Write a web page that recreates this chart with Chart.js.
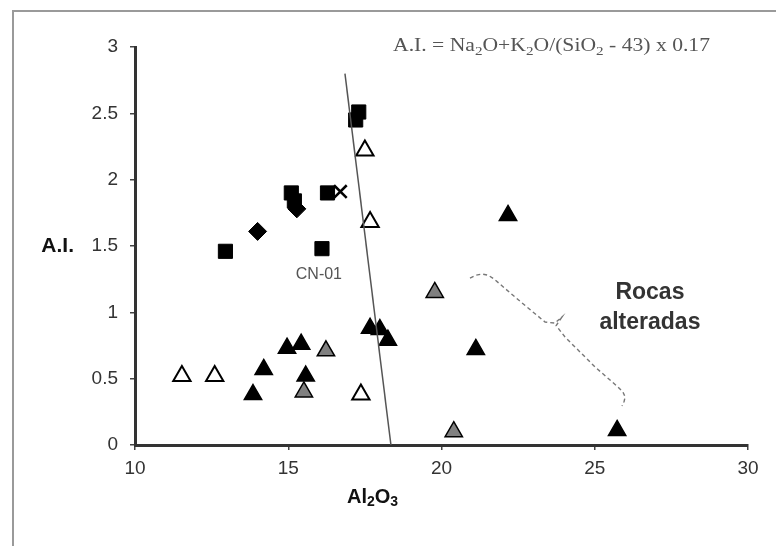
<!DOCTYPE html>
<html>
<head>
<meta charset="utf-8">
<script src="https://cdn.jsdelivr.net/npm/chart.js@4.4.1/dist/chart.umd.min.js"></script>
<style>
  html, body { margin: 0; padding: 0; background: #fff; }
  #wrap { width: 776px; height: 546px; position: relative; }
</style>
</head>
<body>
<div id="wrap"><canvas id="chart" width="776" height="546"></canvas></div>
<script>
// Ticks
const xTicks = [10, 15, 20, 25, 30];
const yTicks = [0, 0.5, 1, 1.5, 2, 2.5, 3];

// Black squares
const squareX = [12.95, 15.1, 15.2, 16.1, 16.28, 17.2, 17.3];
const squareY = [1.46, 1.9, 1.84, 1.48, 1.9, 2.45, 2.51];

// Black diamonds
const diamondX = [14.0, 15.28];
const diamondY = [1.61, 1.78];

// Cross marker
const crossX = [16.7];
const crossY = [1.91];

// Open (white) triangles
const openTriX = [11.53, 12.6, 17.37, 17.5, 17.67];
const openTriY = [0.52, 0.52, 0.38, 2.22, 1.68];

// Grey triangles
const greyTriX = [15.51, 16.23, 19.78, 20.4];
const greyTriY = [0.40, 0.71, 1.15, 0.10];

// Black triangles
const blackTriX = [13.85, 14.2, 14.96, 15.42, 15.57, 17.67, 17.99, 18.25, 21.12, 22.17, 25.73];
const blackTriY = [0.38, 0.57, 0.73, 0.76, 0.52, 0.88, 0.87, 0.79, 0.72, 1.73, 0.11];

// Dividing line
const lineX = [16.85, 18.35];
const lineY = [2.8, 0];

// Dashed brace around "Rocas alteradas"
const braceX = [20.93, 21.12, 21.32, 21.52, 21.72, 22.63, 23.38, 23.7, 23.93, 23.74, 24.03, 25.01, 25.76, 25.92, 25.99, 25.96, 25.89];
const braceY = [1.258, 1.28, 1.289, 1.28, 1.25, 1.07, 0.927, 0.919, 0.965, 0.9, 0.814, 0.588, 0.437, 0.4, 0.362, 0.33, 0.294];

const pts = (xs, ys) => xs.map((x, i) => ({ x: x, y: ys[i] }));

const FONT = '"Liberation Sans", Arial, sans-serif';
const SERIF = '"Liberation Serif", "Times New Roman", serif';

// draws text pieces with subscripts, optionally stretched to a target width
function drawSub(ctx, parts, x, y, size, weight, family, align, targetW) {
    let total = 0;
    parts.forEach(p => {
        ctx.font = `${weight} ${p.sub ? size * 0.7 : size}px ${family}`;
        total += ctx.measureText(p.t).width;
    });
    const k = targetW ? targetW / total : 1;
    let cx = align === 'center' ? x - total * k / 2 : x;
    ctx.save();
    ctx.translate(cx, 0);
    ctx.scale(k, 1);
    let off = 0;
    parts.forEach(p => {
        ctx.font = `${weight} ${p.sub ? size * 0.7 : size}px ${family}`;
        ctx.fillText(p.t, off, p.sub ? y + size * 0.28 : y);
        off += ctx.measureText(p.t).width;
    });
    ctx.restore();
}

const annotations = {
    id: 'annotations',
    beforeDraw(chart) {
        const ctx = chart.ctx;
        ctx.save();
        ctx.fillStyle = '#fff';
        ctx.fillRect(0, 0, chart.width, chart.height);
        // outer frame
        ctx.strokeStyle = '#9a9a9a';
        ctx.lineWidth = 2;
        ctx.beginPath();
        ctx.moveTo(13, chart.height);
        ctx.lineTo(13, 11);
        ctx.lineTo(chart.width, 11);
        ctx.stroke();
        ctx.restore();
    },
    afterDraw(chart) {
        const ctx = chart.ctx;
        const xs = chart.scales.x, ys = chart.scales.y;
        ctx.save();
        ctx.textBaseline = 'middle';
        ctx.textAlign = 'left';

        // formula
        ctx.fillStyle = '#555';
        drawSub(ctx, [
            { t: 'A.I. = Na' }, { t: '2', sub: true }, { t: 'O+K' }, { t: '2', sub: true },
            { t: 'O/(SiO' }, { t: '2', sub: true }, { t: ' - 43) x 0.17' }
        ], 393, 46, 19, 'normal', SERIF, 'left', 317);

        // sample label
        ctx.fillStyle = '#555';
        ctx.font = `16px ${FONT}`;
        ctx.textAlign = 'center';
        ctx.fillText('CN-01', xs.getPixelForValue(16.0), ys.getPixelForValue(1.285));

        // region label
        ctx.fillStyle = '#333';
        ctx.font = `bold 23px ${FONT}`;
        ctx.fillText('Rocas', xs.getPixelForValue(26.8), ys.getPixelForValue(1.15));
        ctx.fillText('alteradas', xs.getPixelForValue(26.8), ys.getPixelForValue(0.925));

        // axis titles
        ctx.fillStyle = '#111';
        ctx.font = `bold 21px ${FONT}`;
        ctx.textAlign = 'right';
        ctx.fillText('A.I.', 74, ys.getPixelForValue(1.5));
        ctx.textAlign = 'left';
        drawSub(ctx, [{ t: 'Al' }, { t: '2', sub: true }, { t: 'O' }, { t: '3', sub: true }],
            xs.getPixelForValue(17.75), 497, 20, 'bold', FONT, 'center');
        ctx.restore();
    }
};

const triBase = { pointStyle: 'triangle', pointRadius: 10, pointHoverRadius: 10, pointBorderColor: '#000', pointBorderWidth: 1.5, showLine: false };

new Chart(document.getElementById('chart'), {
    type: 'scatter',
    data: {
        datasets: [
            { data: pts(lineX, lineY), showLine: true, borderColor: '#555', borderWidth: 1.5, pointRadius: 0, fill: false },
            { data: pts(braceX, braceY), showLine: true, borderColor: '#777', borderWidth: 1.4, borderDash: [4, 3], pointRadius: 0, tension: 0, fill: false },
            Object.assign({ data: pts(greyTriX, greyTriY), pointBackgroundColor: '#808080' }, triBase),
            Object.assign({ data: pts(openTriX, openTriY), pointBackgroundColor: '#fff' }, triBase, { pointBorderWidth: 2 }),
            Object.assign({ data: pts(blackTriX, blackTriY), pointBackgroundColor: '#000' }, triBase),
            { data: pts(crossX, crossY), pointStyle: 'crossRot', pointRadius: 9, pointBorderColor: '#000', pointBorderWidth: 2.5 },
            { data: pts(squareX, squareY), pointStyle: 'rect', pointRadius: 10, pointBackgroundColor: '#000', pointBorderColor: '#000', pointBorderWidth: 1 },
            { data: pts(diamondX, diamondY), pointStyle: 'rectRot', pointRadius: 9, pointBackgroundColor: '#000', pointBorderColor: '#000', pointBorderWidth: 1 }
        ]
    },
    options: {
        responsive: false,
        animation: false,
        devicePixelRatio: 1,
        layout: { padding: { left: 0, right: 28, top: 47, bottom: 0 } },
        plugins: { legend: { display: false }, tooltip: { enabled: false } },
        scales: {
            x: {
                type: 'linear', min: 10, max: 30,
                afterFit: s => { s.height = 101; },
                afterBuildTicks: s => { s.ticks = xTicks.map(v => ({ value: v })); },
                ticks: { color: '#333', font: { family: FONT, size: 19 }, padding: 7, callback: v => String(v) },
                grid: { drawOnChartArea: false, drawTicks: true, tickLength: 5, color: '#444', lineWidth: 1.5 },
                border: { color: '#333', width: 3 }
            },
            y: {
                type: 'linear', min: 0, max: 3,
                afterFit: s => { s.width = 135; },
                afterBuildTicks: s => { s.ticks = yTicks.map(v => ({ value: v })); },
                ticks: { color: '#333', font: { family: FONT, size: 19 }, padding: 12, callback: v => String(v) },
                grid: { drawOnChartArea: false, drawTicks: true, tickLength: 5, color: '#444', lineWidth: 1.5 },
                border: { color: '#333', width: 3 }
            }
        }
    },
    plugins: [annotations]
});
</script>
</body>
</html>
